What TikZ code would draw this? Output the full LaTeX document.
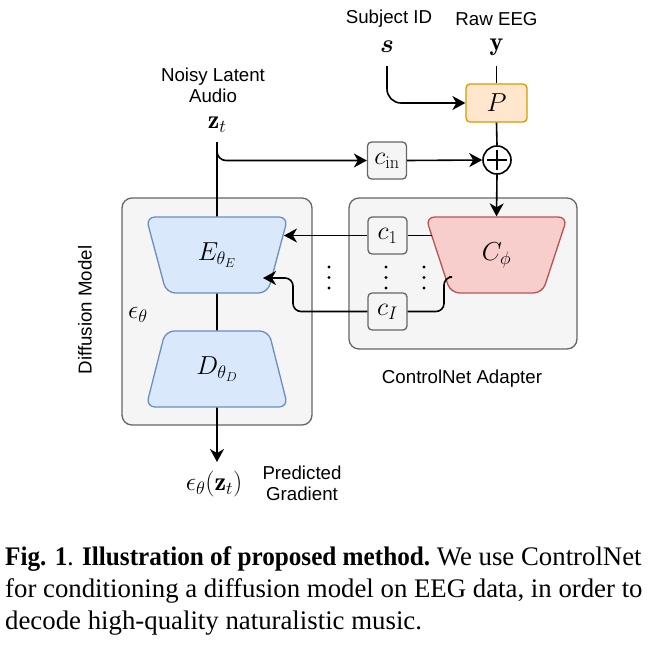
\RequirePackage{fix-cm}
\documentclass[tikz,border=0pt]{standalone}
\usepackage{amsmath,amssymb}
\usepackage{fontspec}
\newfontfamily\labelfont{Liberation Sans}
\newfontfamily\capfont{Liberation Serif}
\usepackage{xcolor}
\usepackage{tikz}
\usetikzlibrary{arrows.meta,positioning,calc,shapes.geometric}

\definecolor{boxgray}{HTML}{F5F5F5}
\definecolor{grayline}{HTML}{666666}
\definecolor{bluefill}{HTML}{DAE8FC}
\definecolor{blueline}{HTML}{6C8EBF}
\definecolor{redfill}{HTML}{F8CECC}
\definecolor{redline}{HTML}{B85450}
\definecolor{orangefill}{HTML}{FFE6CC}
\definecolor{orangeline}{HTML}{D79B00}

\tikzset{
  line/.style={line width=1.6pt},
  arr/.style={line width=1.6pt,-{Stealth[length=13pt,width=14pt,inset=4pt]}},
  mathtext/.style={font=\fontsize{26}{30}\selectfont},
  group/.style={draw=grayline,fill=boxgray,line width=1.3pt,rounded corners=10pt},
  cbox/.style={mathtext,draw=grayline,fill=boxgray,line width=1.3pt,rounded corners=4pt,
    minimum width=39pt,minimum height=37pt,inner sep=0pt},
  trap/.style={mathtext,trapezium,trapezium stretches=true,trapezium angle=72.5,
    minimum width=142pt,minimum height=76pt,rounded corners=9pt,line width=1.3pt,inner sep=0pt}
}

\begin{document}
\begin{tikzpicture}[x=1pt,y=-1pt,every node/.style={font=\labelfont\fontsize{18.7}{21}\selectfont}]
\useasboundingbox (0,0) rectangle (671,645);

% Group boxes
\node[group,minimum width=190pt,minimum height=227pt] (dm) at (217,311.5) {};
\node[group,minimum width=228pt,minimum height=151pt] (cn) at (463,273.5) {};
\node[rotate=90] (dmlabel) at (85,310) {Diffusion Model};
\node (cnlabel) at (462,379) {ControlNet Adapter};
\node[mathtext] (eps) at (138,315) {$\epsilon_\theta$};

% Inputs
\node (subjlabel) at (389,19) {Subject ID};
\node (eeglabel) at (496.5,19) {Raw EEG};
\node[mathtext] (s) at (387,47) {$\boldsymbol{s}$};
\node[mathtext] (eeg) at (496.5,47) {$\mathbf{y}$};
\node[align=center] (zlabel) at (213,85) {Noisy Latent\\Audio};
\node[mathtext] (zt) at (217,125) {$\mathbf{z}_t$};

% Blocks
\node[mathtext,draw=orangeline,fill=orangefill,line width=1.3pt,rounded corners=4pt,
  minimum width=61pt,minimum height=38pt] (P) at (496.5,103) {$P$};
\node[circle,draw,line width=1.6pt,minimum size=28pt,inner sep=0pt] (sum) at (497,160) {};
\draw[line width=1.3pt] ($(sum.center)+(-10,0)$) -- ($(sum.center)+(10,0)$)
  ($(sum.center)+(0,-10)$) -- ($(sum.center)+(0,10)$);
\node[cbox] (cin) at (387,160.5) {$c_{\mathrm{in}}$};
\node[trap,shape border rotate=180,draw=blueline,fill=bluefill] (E) at (217,255) {$E_{\theta_E}$};
\node[trap,draw=blueline,fill=bluefill] (D) at (217,369) {$D_{\theta_D}$};
\node[trap,shape border rotate=180,draw=redline,fill=redfill] (Cphi) at (496.5,255) {$C_\phi$};
\node[cbox] (c1) at (387.5,235.5) {$c_1$};
\node[cbox] (cI) at (387.5,311.5) {$c_I$};

% Vertical dots
\foreach \x in {329,386,424}{
  \foreach \y in {267,277.5,288}{
    \fill (\x,\y) circle (1.6pt);
  }
}

% Output
\node[mathtext] (out) at (214,484) {$\epsilon_\theta(\mathbf{z}_t)$};
\node[align=center] (outlabel) at (302,483) {Predicted\\Gradient};

% Attachment points on the slanted sides
\coordinate (split) at (217,150);
\coordinate (e1) at (284,235.5);
\coordinate (eI) at (263,278);
\coordinate (k1) at (432,235.5);
\coordinate (kI) at (449,277);

% Connectors
\draw[arr,rounded corners=14pt] (387,66) |- (P.west);
\draw[line] (496.5,66) -- (P.north);
\draw[line] (P.south) -- (sum.north);
\draw[arr] (sum.south) -- (Cphi.north);
\draw[line] (217,142) -- (E.north);
\draw[arr,rounded corners=9pt] (split) |- (cin.west);
\draw[arr] (cin.east) -- (sum.west);
\draw[line] (k1) -- (c1.east);
\draw[arr] (c1.west) -- (e1);
\draw[line,rounded corners=8pt] (kI) -| (444,294) |- (cI.east);
\draw[arr,rounded corners=8pt] (cI.west) -| (293,278) -- (eI);
\draw[line] (E.south) -- (D.north);
\draw[arr] (D.south) -- (217,462);

% Caption
\node[anchor=base west,align=left,inner sep=0pt,
  font=\capfont\fontsize{26.8}{32}\selectfont] (caption) at (5,629)
  {\scalebox{0.94}[1]{\textbf{Fig. 1}. \textbf{Illustration of proposed method.}} We use ControlNet\\
   for conditioning a diffusion model on EEG data, in order to\\
   decode high-quality naturalistic music.};

\end{tikzpicture}
\end{document}
